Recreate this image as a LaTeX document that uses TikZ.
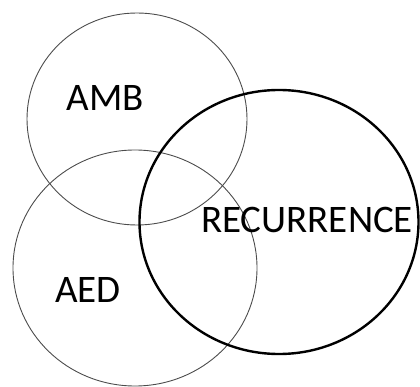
\documentclass[tikz,border=0pt]{standalone}
\usepackage{fontspec}
\setmainfont{Carlito}
\usetikzlibrary{shapes.geometric}

\begin{document}
\begin{tikzpicture}[
  x=1pt, y=-1pt,
  every node/.style={font=\fontsize{39}{41}\selectfont},
  set/.style={draw,ellipse,inner sep=0pt,line width=0.9pt,gray!60!black},
  bigset/.style={set,line width=2.4pt,black},
  lbl/.style={inner sep=0pt,text=black}
]
\useasboundingbox (0,0) rectangle (420,387);
\node[set,minimum width=220pt,minimum height=212pt] (amb) at (137,119) {};
\node[set,minimum width=244pt,minimum height=236pt] (aed) at (135,268) {};
\node[bigset,minimum width=279pt,minimum height=264pt] (rec) at (279,222) {};
\node[lbl] (ambl) at (105,98) {AMB};
\node[lbl] (aedl) at (88,290) {AED};
\node[lbl] (recl) at (307,220) {RECURRENCE};
\end{tikzpicture}
\end{document}
